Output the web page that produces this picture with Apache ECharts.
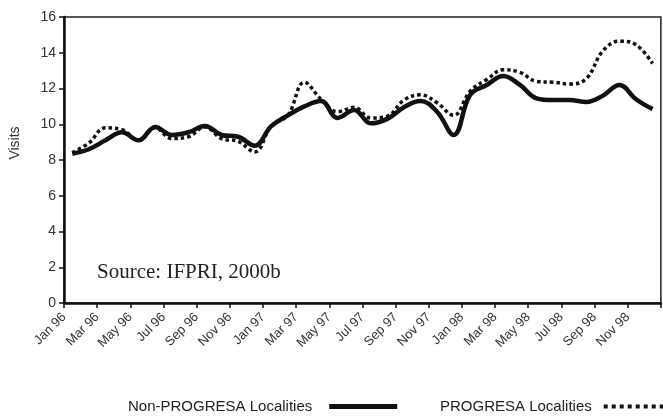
<!DOCTYPE html>
<html>
<head>
<meta charset="utf-8">
<title>Visits</title>
<script src="https://cdn.jsdelivr.net/npm/echarts/dist/echarts.min.js"></script>
<style>
    html, body { margin: 0; padding: 0; background: #fff; }
    #main { width: 663px; height: 416px; }
</style>
</head>
<body>
<div id="main"></div>
<script>
// months Jan 96 - Dec 98
var months = ['Jan 96','Feb 96','Mar 96','Apr 96','May 96','Jun 96','Jul 96','Aug 96','Sep 96','Oct 96','Nov 96','Dec 96',
              'Jan 97','Feb 97','Mar 97','Apr 97','May 97','Jun 97','Jul 97','Aug 97','Sep 97','Oct 97','Nov 97','Dec 97',
              'Jan 98','Feb 98','Mar 98','Apr 98','May 98','Jun 98','Jul 98','Aug 98','Sep 98','Oct 98','Nov 98','Dec 98'];

var nonProgresa = [8.35, 8.6, 9.1, 9.55, 9.1, 9.85, 9.4, 9.55, 9.9, 9.4, 9.3, 8.8,
                   9.9, 10.5, 11.0, 11.3, 10.35, 10.8, 10.05, 10.3, 10.95, 11.3, 10.7, 9.4,
                   11.65, 12.2, 12.7, 12.2, 11.45, 11.35, 11.35, 11.25, 11.6, 12.2, 11.4, 10.85];

var progresa = [8.4, 8.95, 9.8, 9.7, 9.1, 9.8, 9.2, 9.3, 9.85, 9.2, 9.05, 8.45,
                9.9, 10.5, 12.35, 11.4, 10.7, 10.95, 10.35, 10.45, 11.35, 11.65, 11.2, 10.5,
                11.85, 12.5, 13.05, 12.9, 12.4, 12.35, 12.25, 12.55, 14.1, 14.65, 14.45, 13.4];

var yMin = 0, yMax = 16, yStep = 2;
var sourceNote = 'Source: IFPRI, 2000b';

// tick labels sit on the tick marks, one more slot than months
var tickLabels = months.concat(['']);

var myChart = echarts.init(document.getElementById('main'));

var sans = 'Liberation Sans, Arial, sans-serif';
// legend key for the dotted line: a row of small squares
var dotIcon = 'path://M0,0h4v4h-4z M8,0h4v4h-4z M16,0h4v4h-4z M24,0h4v4h-4z M32,0h4v4h-4z M40,0h4v4h-4z M48,0h4v4h-4z M56,0h4v4h-4z';

var option = {
    animation: false,
    grid: {
        left: 64, right: -6, top: 17, bottom: 113,
        show: true, borderColor: '#222', borderWidth: 1.5
    },
    xAxis: [
        {   // data axis, points between ticks
            type: 'category',
            data: months,
            boundaryGap: true,
            position: 'bottom',
            axisLine: { show: true, lineStyle: { color: '#111', width: 2.5 } },
            axisTick: { show: false },
            axisLabel: { show: false },
            splitLine: { show: false }
        },
        {   // label axis, ticks every two months
            type: 'category',
            data: tickLabels,
            boundaryGap: false,
            position: 'bottom',
            axisLine: { show: false },
            axisTick: { show: true, interval: 1, length: 5, lineStyle: { color: '#111', width: 1.5 } },
            axisLabel: { interval: 1, rotate: 45, margin: 12, fontSize: 13, color: '#333', fontFamily: sans },
            splitLine: { show: false }
        }
    ],
    yAxis: {
        type: 'value',
        min: yMin, max: yMax, interval: yStep,
        axisLine: { show: true, lineStyle: { color: '#111', width: 2.5 } },
        axisTick: { show: true, length: 5, lineStyle: { color: '#111', width: 1.5 } },
        axisLabel: { margin: 8, fontSize: 14, color: '#333', fontFamily: sans },
        splitLine: { show: false }
    },
    legend: [
        {
            data: [{ name: 'Non-PROGRESA Localities', icon: 'rect' }],
            left: 123, top: 394,
            align: 'right',
            itemWidth: 68, itemHeight: 5,
            textStyle: { fontSize: 15, color: '#222', fontFamily: sans, padding: [0, 12, 0, 0] }
        },
        {
            data: [{ name: 'PROGRESA Localities', icon: dotIcon }],
            left: 435, top: 394,
            align: 'right',
            itemWidth: 66, itemHeight: 4,
            textStyle: { fontSize: 15, color: '#222', fontFamily: sans, padding: [0, 4, 0, 0] }
        }
    ],
    graphic: [
        {
            type: 'text', left: 97, top: 262,
            style: { text: sourceNote, fontSize: 21, fontFamily: 'Liberation Serif, Times New Roman, serif', fill: '#222' }
        },
        {
            type: 'text', x: 15, y: 143, rotation: Math.PI / 2,
            style: { text: 'Visits', fontSize: 14, fontFamily: sans, fill: '#333', align: 'center', verticalAlign: 'middle' }
        }
    ],
    series: [
        {
            name: 'Non-PROGRESA Localities',
            type: 'line',
            data: nonProgresa,
            smooth: 0.4,
            symbol: 'none',
            z: 3,
            lineStyle: { color: '#111', width: 4.5 },
            itemStyle: { color: '#111' }
        },
        {
            name: 'PROGRESA Localities',
            type: 'line',
            data: progresa,
            smooth: 0.4,
            symbol: 'none',
            z: 2,
            lineStyle: { color: '#111', width: 3.5, type: [3.5, 3], cap: 'butt' },
            itemStyle: { color: '#111' }
        }
    ]
};

myChart.setOption(option);
</script>
</body>
</html>
